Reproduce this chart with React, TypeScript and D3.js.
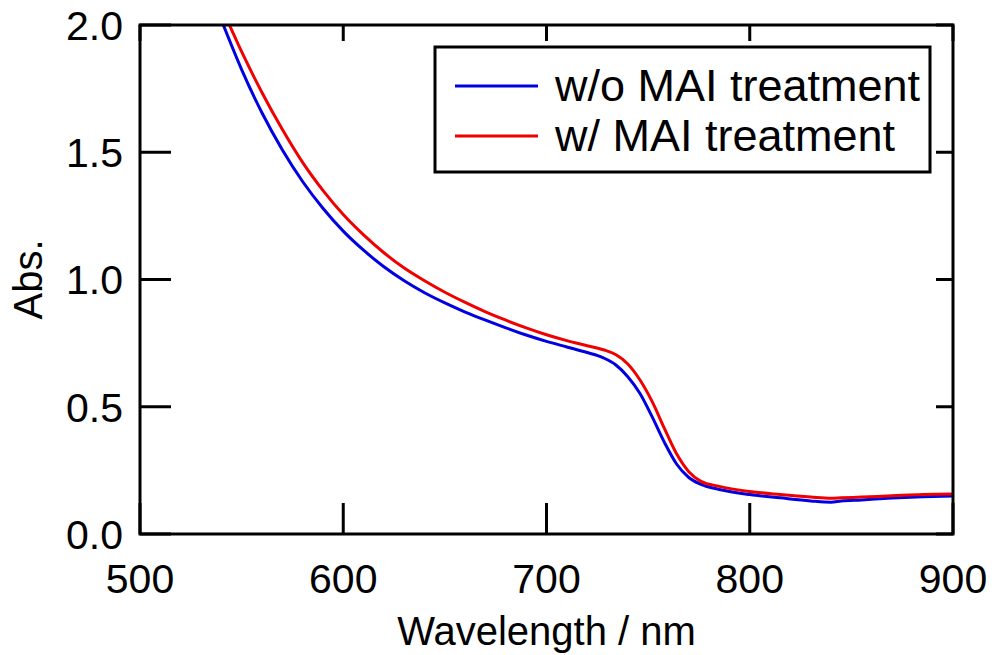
import React from "react";
import * as d3 from "d3";

const wlBlue = [541, 550, 560, 570, 580, 590, 600, 610, 620, 630, 640, 650, 660, 670, 680, 690, 700, 710, 720, 728, 734, 740, 746, 752, 758, 764, 770, 776, 785, 800, 815, 830, 840, 845, 855, 870, 885, 900];
const absBlue = [2.0, 1.825, 1.655, 1.51, 1.385, 1.28, 1.19, 1.115, 1.05, 0.995, 0.948, 0.908, 0.872, 0.84, 0.81, 0.782, 0.757, 0.735, 0.713, 0.692, 0.665, 0.618, 0.552, 0.46, 0.36, 0.275, 0.222, 0.195, 0.175, 0.155, 0.142, 0.13, 0.125, 0.13, 0.134, 0.141, 0.146, 0.149];
const wlRed = [544, 550, 560, 570, 580, 590, 600, 610, 620, 630, 640, 650, 660, 670, 680, 690, 700, 710, 720, 728, 734, 740, 746, 752, 758, 764, 770, 776, 785, 800, 815, 830, 840, 845, 855, 870, 885, 900];
const absRed = [2.0, 1.895, 1.735, 1.59, 1.46, 1.35, 1.255, 1.175, 1.105, 1.045, 0.995, 0.95, 0.91, 0.873, 0.84, 0.81, 0.783, 0.76, 0.74, 0.724, 0.705, 0.668, 0.605, 0.52, 0.415, 0.315, 0.245, 0.207, 0.187, 0.167, 0.155, 0.145, 0.14, 0.142, 0.145, 0.15, 0.155, 0.157];
const xTicks = [500, 600, 700, 800, 900];
const yTicks = [0, 0.5, 1.0, 1.5, 2.0];
const seriesNames = ["w/o MAI treatment", "w/ MAI treatment"];
const seriesColors = ["#0000e0", "#f00000"];

const W = 992, H = 655;
const L = 140, R = 953, T = 25, B = 534;
const FONT = "Arial, 'Liberation Sans', sans-serif";

export default function App() {
  const x = d3.scaleLinear().domain([500, 900]).range([L, R]);
  const y = d3.scaleLinear().domain([0, 2]).range([B, T]);
  const line = d3.line<[number, number]>().x(d => x(d[0])).y(d => y(d[1])).curve(d3.curveMonotoneX);
  const series = [
    wlBlue.map((w, i) => [w, absBlue[i]] as [number, number]),
    wlRed.map((w, i) => [w, absRed[i]] as [number, number]),
  ];
  return (
    <svg width={W} height={H} style={{ position: "absolute", left: 0, top: 0, background: "#fff" }} fontFamily={FONT}>
      <rect x={0} y={0} width={W} height={H} fill="#fff" />
      <defs>
        <clipPath id="plot"><rect x={L} y={T} width={R - L} height={B - T} /></clipPath>
      </defs>
      <g clipPath="url(#plot)">
        {series.map((s, i) => (
          <path key={i} d={line(s) || ""} fill="none" stroke={seriesColors[i]} strokeWidth={3} strokeLinejoin="round" />
        ))}
      </g>
      {xTicks.map(t => (
        <g key={"x" + t}>
          <line x1={x(t)} x2={x(t)} y1={B} y2={B - 31} stroke="#000" strokeWidth={3} />
          <line x1={x(t)} x2={x(t)} y1={T} y2={T + 16} stroke="#000" strokeWidth={3} />
          <text x={x(t)} y={593} textAnchor="middle" fontSize={41} fill="#000">{t}</text>
        </g>
      ))}
      {yTicks.map(t => (
        <g key={"y" + t}>
          <line x1={L} x2={L + 31} y1={y(t)} y2={y(t)} stroke="#000" strokeWidth={3} />
          <line x1={R} x2={R - 17} y1={y(t)} y2={y(t)} stroke="#000" strokeWidth={3} />
          <text x={123} y={y(t)} dy="0.36em" textAnchor="end" fontSize={41} fill="#000">{t.toFixed(1)}</text>
        </g>
      ))}
      <rect x={L} y={T} width={R - L} height={B - T} fill="none" stroke="#000" strokeWidth={3} />
      <text x={(L + R) / 2} y={645} textAnchor="middle" fontSize={40} fill="#000">Wavelength / nm</text>
      <text transform={`translate(42, ${(T + B) / 2}) rotate(-90)`} textAnchor="middle" fontSize={40} fill="#000">Abs.</text>
      <g>
        <rect x={435} y={47} width={495} height={125} fill="#fff" stroke="#000" strokeWidth={3} />
        {seriesNames.map((n, i) => (
          <g key={n}>
            <line x1={455} x2={538} y1={86 + i * 50} y2={86 + i * 50} stroke={seriesColors[i]} strokeWidth={3} />
            <text x={555} y={101 + i * 50} fontSize={45} fill="#000">{n}</text>
          </g>
        ))}
      </g>
    </svg>
  );
}
